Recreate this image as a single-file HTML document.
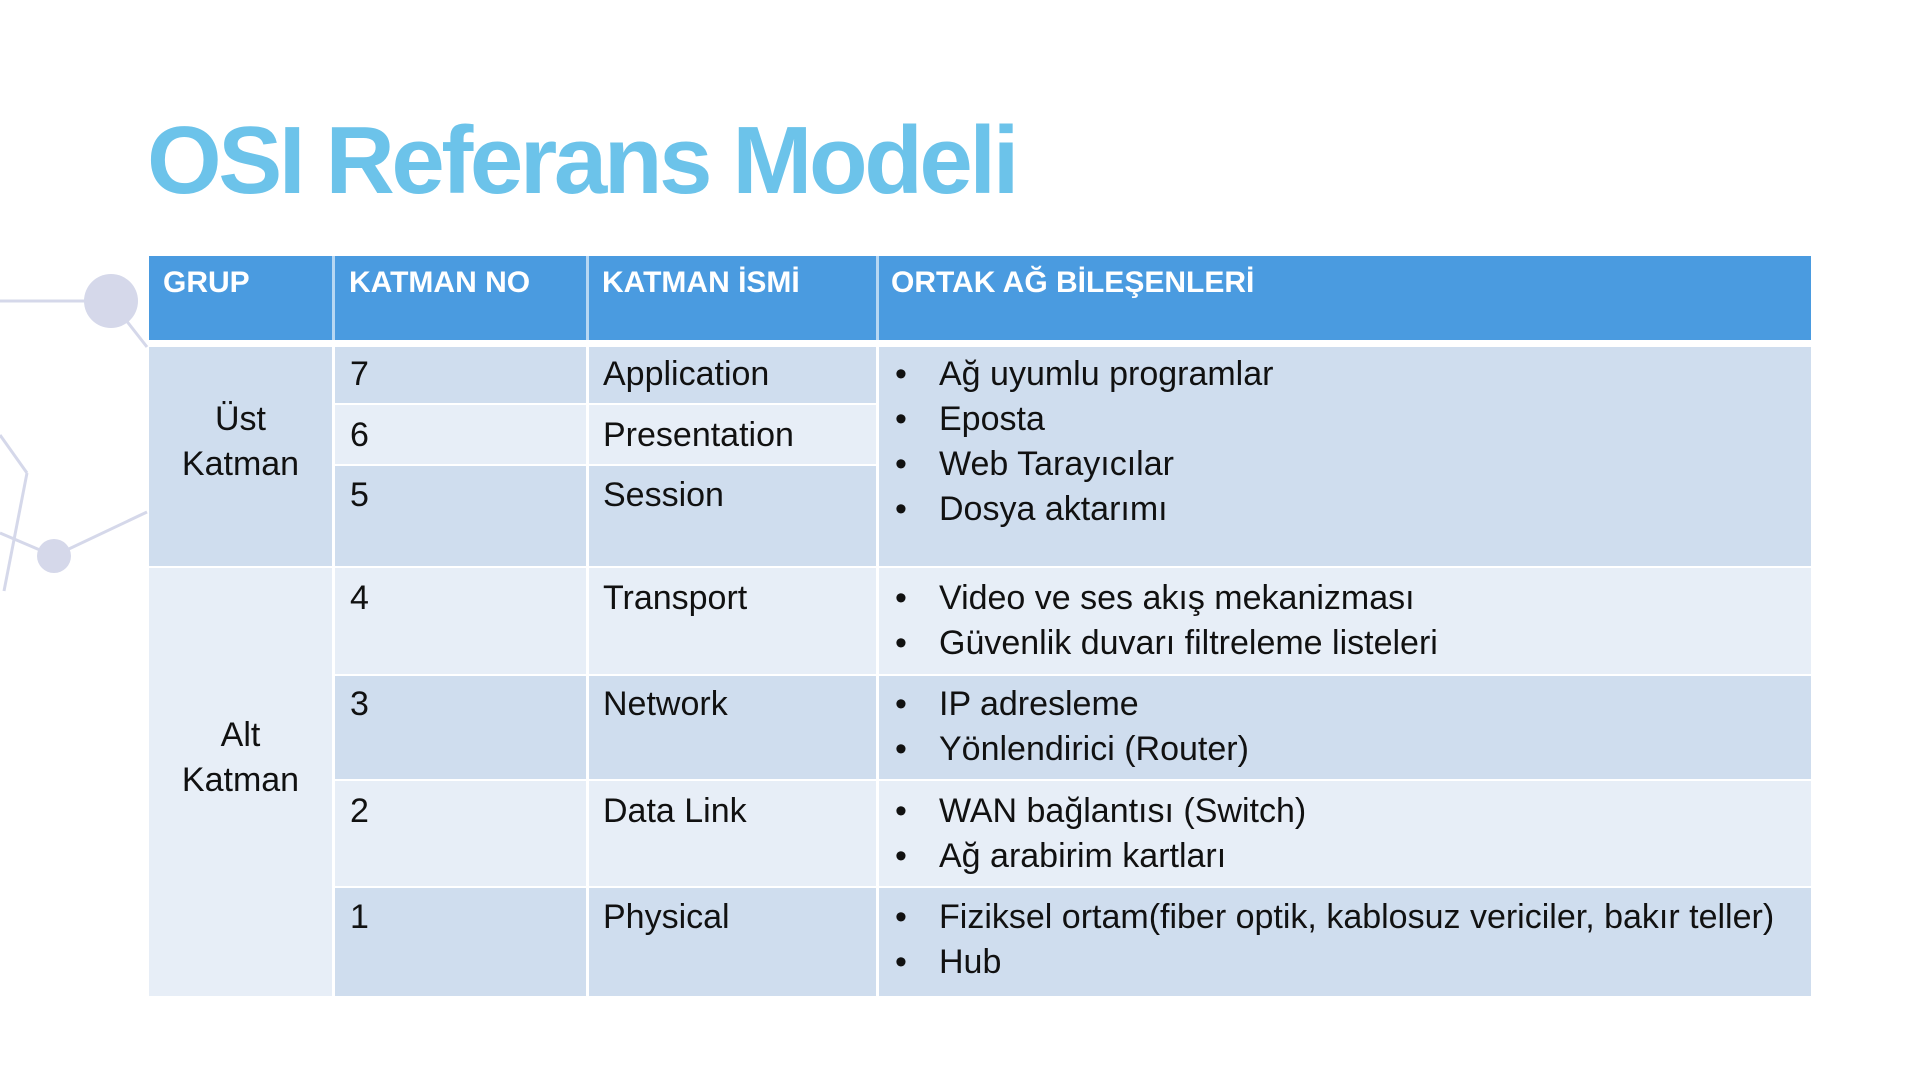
<!DOCTYPE html>
<html><head><meta charset="utf-8"><style>
*{margin:0;padding:0;box-sizing:border-box}
body{width:1920px;height:1080px;background:#fff;position:relative;overflow:hidden;font-family:"Liberation Sans",sans-serif}
.t{position:absolute;left:147px;top:106px;font-size:96px;font-weight:bold;color:#6cc3ea;letter-spacing:-3.4px;line-height:110px;white-space:nowrap}
.c{position:absolute;font-size:34px;color:#111;line-height:45px;white-space:nowrap}
.h{position:absolute;font-size:30px;color:#fff;font-weight:bold;line-height:40px;white-space:nowrap}
.r{position:absolute}
.d{background:#cfddee}.l{background:#e7eef7}
ul{list-style:none}
li{position:relative;padding-left:53px}
li:before{content:"•";position:absolute;left:9px}
</style></head><body>
<svg width="1920" height="1080" style="position:absolute;left:0;top:0">
<g stroke="#d5d8ea" stroke-width="3" fill="none">
<line x1="0" y1="301" x2="111" y2="301"/>
<line x1="111" y1="301" x2="147" y2="347"/>
<line x1="0" y1="435" x2="27" y2="473"/>
<line x1="27" y1="473" x2="4" y2="591"/>
<line x1="0" y1="533" x2="54" y2="556"/>
<line x1="54" y1="556" x2="147" y2="512"/>
</g>
<circle cx="111" cy="301" r="27" fill="#d5d8ea"/>
<circle cx="54" cy="556" r="17" fill="#d5d8ea"/>
</svg>
<div class="t">OSI Referans Modeli</div>
<div class="r" style="left:149px;top:256px;width:1662px;height:84px;background:#4a9be0"></div>
<div class="r" style="left:332px;top:256px;width:3px;height:84px;background:#fff;opacity:.6"></div>
<div class="r" style="left:586px;top:256px;width:3px;height:84px;background:#fff;opacity:.6"></div>
<div class="r" style="left:876px;top:256px;width:3px;height:84px;background:#fff;opacity:.6"></div>
<div class="h" style="left:163px;top:263px">GRUP</div>
<div class="h" style="left:349px;top:263px">KATMAN NO</div>
<div class="h" style="left:602px;top:263px">KATMAN İSMİ</div>
<div class="h" style="left:891px;top:263px">ORTAK AĞ BİLEŞENLERİ</div>

<div class="r d" style="left:149px;top:347px;width:183px;height:219px"></div>
<div class="r l" style="left:149px;top:568px;width:183px;height:428px"></div>
<div class="r d" style="left:335px;top:347px;width:251px;height:56px"></div>
<div class="r d" style="left:589px;top:347px;width:287px;height:56px"></div>
<div class="r l" style="left:335px;top:405px;width:251px;height:59px"></div>
<div class="r l" style="left:589px;top:405px;width:287px;height:59px"></div>
<div class="r d" style="left:335px;top:466px;width:251px;height:100px"></div>
<div class="r d" style="left:589px;top:466px;width:287px;height:100px"></div>
<div class="r d" style="left:879px;top:347px;width:932px;height:219px"></div>

<div class="r l" style="left:335px;top:568px;width:251px;height:106px"></div>
<div class="r l" style="left:589px;top:568px;width:287px;height:106px"></div>
<div class="r l" style="left:879px;top:568px;width:932px;height:106px"></div>
<div class="r d" style="left:335px;top:676px;width:251px;height:103px"></div>
<div class="r d" style="left:589px;top:676px;width:287px;height:103px"></div>
<div class="r d" style="left:879px;top:676px;width:932px;height:103px"></div>
<div class="r l" style="left:335px;top:781px;width:251px;height:105px"></div>
<div class="r l" style="left:589px;top:781px;width:287px;height:105px"></div>
<div class="r l" style="left:879px;top:781px;width:932px;height:105px"></div>
<div class="r d" style="left:335px;top:888px;width:251px;height:108px"></div>
<div class="r d" style="left:589px;top:888px;width:287px;height:108px"></div>
<div class="r d" style="left:879px;top:888px;width:932px;height:108px"></div>

<div class="c" style="left:149px;width:183px;text-align:center;top:397px">Üst<br>Katman</div>
<div class="c" style="left:149px;width:183px;text-align:center;top:713px">Alt<br>Katman</div>

<div class="c" style="left:350px;top:352px">7</div>
<div class="c" style="left:603px;top:352px">Application</div>
<div class="c" style="left:350px;top:413px">6</div>
<div class="c" style="left:603px;top:413px">Presentation</div>
<div class="c" style="left:350px;top:473px">5</div>
<div class="c" style="left:603px;top:473px">Session</div>
<div class="c" style="left:350px;top:576px">4</div>
<div class="c" style="left:603px;top:576px">Transport</div>
<div class="c" style="left:350px;top:682px">3</div>
<div class="c" style="left:603px;top:682px">Network</div>
<div class="c" style="left:350px;top:789px">2</div>
<div class="c" style="left:603px;top:789px">Data Link</div>
<div class="c" style="left:350px;top:895px">1</div>
<div class="c" style="left:603px;top:895px">Physical</div>

<ul class="c" style="left:886px;top:352px"><li>Ağ uyumlu programlar</li><li>Eposta</li><li>Web Tarayıcılar</li><li>Dosya aktarımı</li></ul>
<ul class="c" style="left:886px;top:576px"><li>Video ve ses akış mekanizması</li><li>Güvenlik duvarı filtreleme listeleri</li></ul>
<ul class="c" style="left:886px;top:682px"><li>IP adresleme</li><li>Yönlendirici (Router)</li></ul>
<ul class="c" style="left:886px;top:789px"><li>WAN bağlantısı (Switch)</li><li>Ağ arabirim kartları</li></ul>
<ul class="c" style="left:886px;top:895px"><li>Fiziksel ortam(fiber optik, kablosuz vericiler, bakır teller)</li><li>Hub</li></ul>
</body></html>
